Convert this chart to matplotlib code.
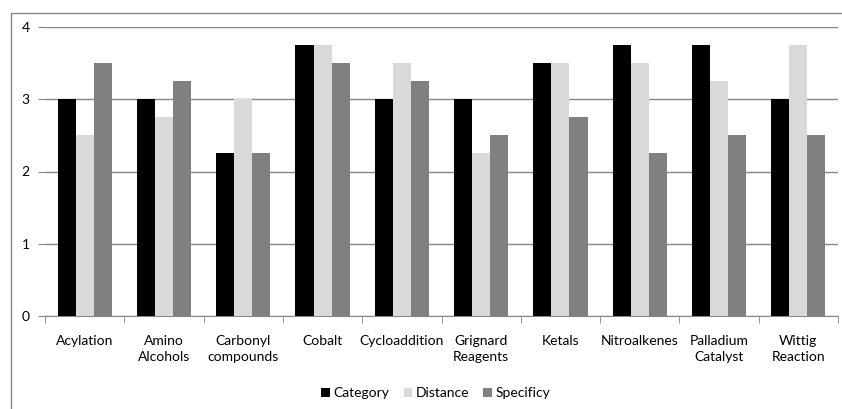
import matplotlib
matplotlib.use("Agg")
import matplotlib.pyplot as plt
from matplotlib.lines import Line2D
import numpy as np

categories = ["Acylation", "Amino\nAlcohols", "Carbonyl\ncompounds", "Cobalt", "Cycloaddition",
              "Grignard\nReagents", "Ketals", "Nitroalkenes", "Palladium\nCatalyst", "Wittig\nReaction"]
category_vals = [3, 3, 2.25, 3.75, 3, 3, 3.5, 3.75, 3.75, 3]
distance_vals = [2.5, 2.75, 3, 3.75, 3.5, 2.25, 3.5, 3.5, 3.25, 3.75]
specificy_vals = [3.5, 3.25, 2.25, 3.5, 3.25, 2.5, 2.75, 2.25, 2.5, 2.5]
series_names = ["Category", "Distance", "Specificy"]
colors = ["#000000", "#d9d9d9", "#808080"]

plt.rcParams['font.family'] = ['Lato', 'DejaVu Sans']

W, H = 842, 409
fig = plt.figure(figsize=(W / 100, H / 100), dpi=100)
ax = fig.add_axes([45 / W, 1 - 316 / H, (838 - 45) / W, (316 - 27) / H])

# outer chart border (only top and left edges are visible in the crop)
fig.lines.append(Line2D([10.5 / W, 10.5 / W, 1.0], [0.0, 1 - 12.5 / H, 1 - 12.5 / H],
                        transform=fig.transFigure, color="#868686", linewidth=1.0))

x = np.arange(len(categories))
w = 0.228
for i, (vals, name, c) in enumerate(zip([category_vals, distance_vals, specificy_vals], series_names, colors)):
    ax.bar(x + (i - 1) * w, vals, width=w, color=c, label=name, zorder=3)

ax.set_xlim(-0.5, len(categories) - 0.5)
ax.set_ylim(0, 4)
ax.set_yticks([0, 1, 2, 3, 4])
ax.yaxis.grid(True, color="#868686", linewidth=1.0, zorder=0)
ax.set_axisbelow(True)

ax.set_xticks(x)
ax.set_xticklabels(categories, fontsize=10, linespacing=1.35)
ax.tick_params(axis='x', length=0, pad=14)
ax.set_xticks(np.arange(-0.5, len(categories), 1), minor=True)
ax.tick_params(axis='x', which='minor', length=5, color="#868686", direction='out')
ax.tick_params(axis='y', length=5, color="#868686", labelsize=10, pad=6)

for s in ["top", "right", "left"]:
    ax.spines[s].set_visible(False)
ax.spines["bottom"].set_color("#868686")

leg = fig.legend(loc="center", bbox_to_anchor=(436 / W, 1 - 393 / H), ncol=3, frameon=False,
                 fontsize=10, handlelength=0.6, handleheight=0.6, handletextpad=0.3,
                 columnspacing=1.0)

fig.savefig("out.png", dpi=100)
